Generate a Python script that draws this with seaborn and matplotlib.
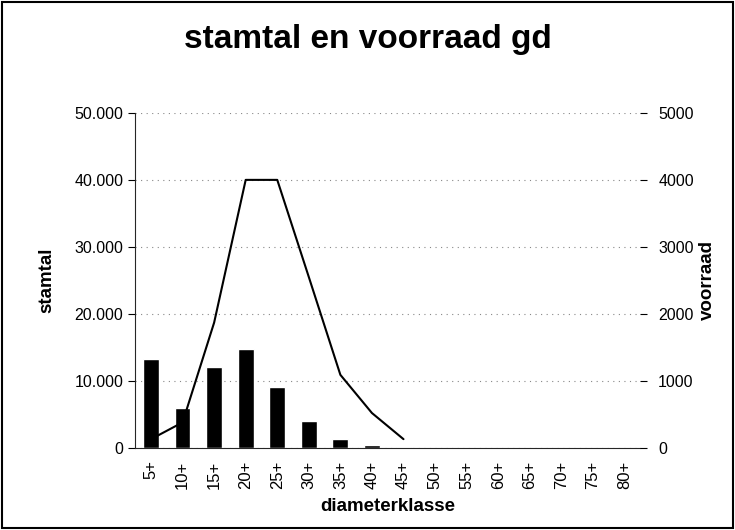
import numpy as np
import pandas as pd
import matplotlib
matplotlib.use("Agg")
import matplotlib.pyplot as plt
import seaborn as sns
from matplotlib.ticker import FuncFormatter, MultipleLocator
from matplotlib.patches import Rectangle

# ── data ─────────────────────────────────────────────
klassen = ["5+", "10+", "15+", "20+", "25+", "30+", "35+", "40+",
           "45+", "50+", "55+", "60+", "65+", "70+", "75+", "80+"]
stamtal = [13200, 5900, 12100, 14800, 9100, 4000, 1300, 450,
           80, 30, 20, 10, 10, 0, 0, 0]
voorraad = [130, 380, 1870, 4000, 4000, 2550, 1090, 520, 130]

sns.set_style("white")
plt.rcParams["font.family"] = ["Liberation Sans", "DejaVu Sans"]
plt.rcParams.update({"text.color": "black", "axes.labelcolor": "black",
                     "xtick.color": "black", "ytick.color": "black"})

fig = plt.figure(figsize=(7.35, 5.3), dpi=100)
ax = fig.add_axes([0.184, 0.155, 0.687, 0.632])

df = pd.DataFrame({"klasse": klassen, "stamtal": stamtal})
sns.barplot(data=df, x="klasse", y="stamtal", color="black",
            width=0.5, ax=ax, saturation=1)

ax.set_ylim(0, 50000)
ax.set_xlim(-0.5, len(klassen) - 0.5)
ax.yaxis.set_major_locator(MultipleLocator(10000))
ax.yaxis.set_major_formatter(FuncFormatter(lambda v, p: f"{int(v):,}".replace(",", ".")))
ax.grid(axis="y", color="#888888", linestyle=(0, (1, 4)), linewidth=0.8)
ax.set_axisbelow(True)

# x ticks: labels at categories, tick marks at class boundaries
ax.set_xticks(np.arange(len(klassen)))
ax.set_xticklabels(klassen, rotation=90, fontsize=12)
ax.set_xticks(np.arange(len(klassen) + 1) - 0.5, minor=True)
ax.tick_params(axis="x", which="major", length=0, pad=9)
ax.tick_params(axis="x", which="minor", length=6, direction="inout", width=0.8)
ax.tick_params(axis="y", which="major", length=5, direction="out", width=0.8, labelsize=11.5)

for side in ["top", "right"]:
    ax.spines[side].set_visible(False)
ax.spines["left"].set_linewidth(0.8)
ax.spines["bottom"].set_linewidth(0.8)

ax.set_xlabel("diameterklasse", fontsize=13.5, fontweight="bold", labelpad=7)
ax.set_ylabel("stamtal", fontsize=13.5, fontweight="bold", labelpad=14)

# right axis: voorraad line
ax2 = ax.twinx()
sns.lineplot(x=np.arange(len(voorraad)), y=voorraad, color="black",
             linewidth=1.5, ax=ax2)
ax2.set_ylim(0, 5000)
ax2.yaxis.set_major_locator(MultipleLocator(1000))
ax2.tick_params(axis="y", length=5, direction="out", width=0.8, labelsize=11.5, pad=8)
for side in ["top", "left", "bottom", "right"]:
    ax2.spines[side].set_visible(False)
ax2.set_ylabel("voorraad", fontsize=13.5, fontweight="bold", labelpad=4)

fig.suptitle("stamtal en voorraad gd", fontsize=24, fontweight="bold", y=0.955)

fig.patches.append(Rectangle((0.003, 0.003), 0.994, 0.994, transform=fig.transFigure,
                             fill=False, edgecolor="black", linewidth=1.5))

fig.savefig("out.png", dpi=100)
